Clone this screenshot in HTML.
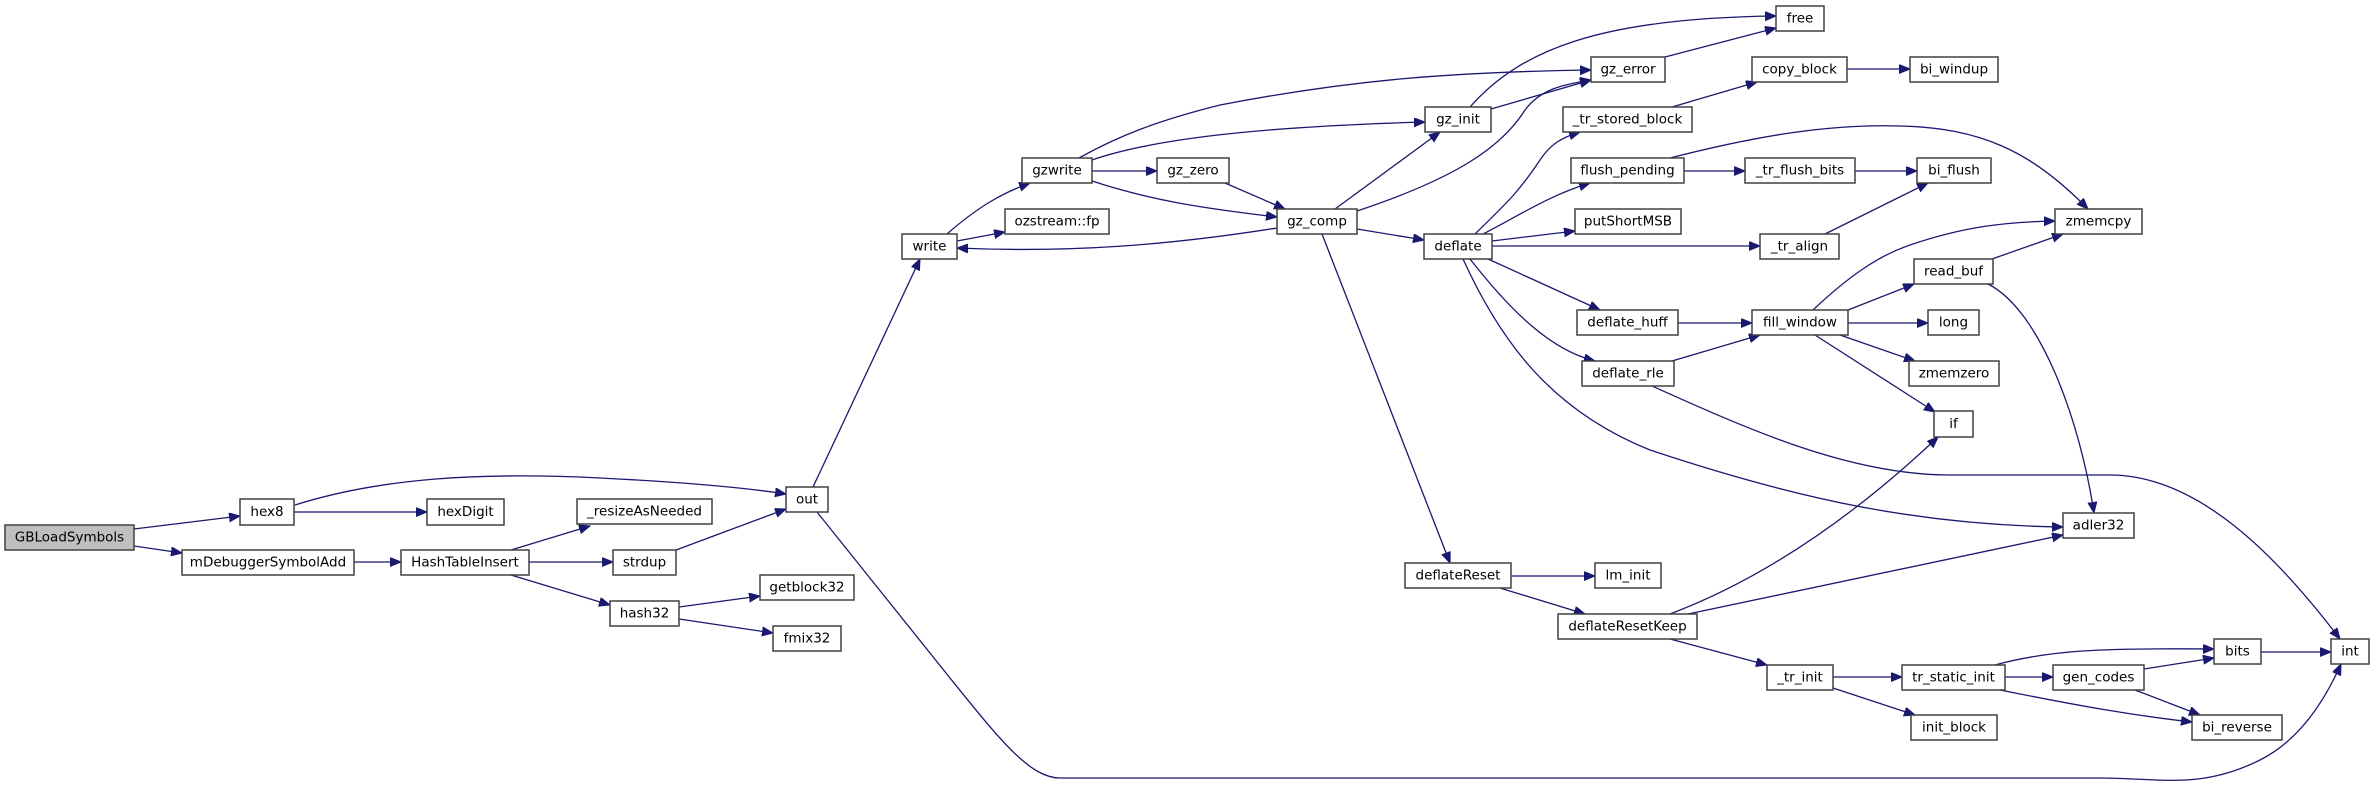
<!DOCTYPE html>
<html><head><meta charset="utf-8"><style>
html,body{margin:0;padding:0;background:#fff;}
svg{display:block;}
text{font-family:"DejaVu Sans","Liberation Sans",sans-serif;font-size:13.5px;fill:#000;text-anchor:middle;dominant-baseline:central;}
.b{fill:#fff;stroke:#404040;stroke-width:1.5;}
.e{fill:none;stroke:#191970;stroke-width:1.3;marker-end:url(#a);}
</style></head><body>
<svg width="2375" height="789" viewBox="0 0 2375 789" xmlns="http://www.w3.org/2000/svg">
<defs><marker id="a" markerUnits="userSpaceOnUse" markerWidth="12" markerHeight="10" refX="11" refY="4.5" orient="auto"><path d="M0,0 L11,4.5 L0,9 Z" fill="#191970" stroke="#191970"/></marker></defs>
<!-- edges -->
<path class="e" d="M134,529 L240,516"/>
<path class="e" d="M134,546 L182,553"/>
<path class="e" d="M295,505 C380,478 480,472 600,478 C680,482 740,487 786,494"/>
<path class="e" d="M294,512 L427,512"/>
<path class="e" d="M354,562 L401,562"/>
<path class="e" d="M511,550 L590,526"/>
<path class="e" d="M529,562 L613,562"/>
<path class="e" d="M511,575 L610,605"/>
<path class="e" d="M676,550 L786,509"/>
<path class="e" d="M679,607 L760,596"/>
<path class="e" d="M679,619 L773,633"/>
<path class="e" d="M813,487 L920,259"/>
<path class="e" d="M817,512 L950,678 C1000,740 1030,778 1060,778 L2100,778 C2160,778 2200,790 2260,760 C2300,740 2325,700 2341,664"/>
<path class="e" d="M947,234 C980,205 1005,192 1030,183"/>
<path class="e" d="M957,241 L1005,232"/>
<path class="e" d="M1277,228 C1170,245 1070,253 957,248"/>
<path class="e" d="M1079,158 C1120,135 1160,120 1220,105 C1350,80 1450,72 1591,70"/>
<path class="e" d="M1092,160 C1150,140 1250,127 1425,122"/>
<path class="e" d="M1092,171 L1157,171"/>
<path class="e" d="M1092,181 C1150,200 1200,208 1277,217"/>
<path class="e" d="M1225,183 L1285,209"/>
<path class="e" d="M1335,209 L1440,132"/>
<path class="e" d="M1357,211 C1450,180 1500,150 1525,110 C1540,90 1560,85 1591,80"/>
<path class="e" d="M1357,229 L1424,240"/>
<path class="e" d="M1322,234 L1450,563"/>
<path class="e" d="M1470,107 C1520,50 1600,18 1776,16"/>
<path class="e" d="M1491,109 L1591,80"/>
<path class="e" d="M1665,57 L1776,28"/>
<path class="e" d="M1475,234 C1510,200 1520,190 1540,160 C1550,145 1560,138 1580,132"/>
<path class="e" d="M1483,234 C1520,215 1550,195 1590,183"/>
<path class="e" d="M1492,241 L1575,231"/>
<path class="e" d="M1492,246 L1760,246"/>
<path class="e" d="M1488,259 L1600,310"/>
<path class="e" d="M1470,259 C1510,310 1550,350 1595,361"/>
<path class="e" d="M1463,259 C1500,340 1550,410 1650,450 C1800,500 1920,525 2063,527"/>
<path class="e" d="M1672,107 L1757,82"/>
<path class="e" d="M1847,69 L1910,69"/>
<path class="e" d="M1684,171 L1745,171"/>
<path class="e" d="M1855,171 L1917,171"/>
<path class="e" d="M1825,234 L1928,183"/>
<path class="e" d="M1670,158 C1760,135 1830,124 1900,126 C1980,128 2030,150 2088,209"/>
<path class="e" d="M1678,323 L1752,323"/>
<path class="e" d="M1672,361 L1760,335"/>
<path class="e" d="M1813,310 C1850,275 1880,255 1910,245 C1960,228 2000,222 2055,221"/>
<path class="e" d="M1992,259 L2063,234"/>
<path class="e" d="M1848,310 L1914,284"/>
<path class="e" d="M1848,323 L1928,323"/>
<path class="e" d="M1840,335 L1915,361"/>
<path class="e" d="M1815,335 L1935,412"/>
<path class="e" d="M1988,284 C2040,310 2080,420 2094,513"/>
<path class="e" d="M1652,386 C1750,430 1850,475 1950,475 L2110,475 C2200,475 2280,560 2340,639"/>
<path class="e" d="M1511,576 L1595,576"/>
<path class="e" d="M1500,588 L1585,614"/>
<path class="e" d="M1670,614 C1760,580 1850,520 1938,437"/>
<path class="e" d="M1688,614 L2063,535"/>
<path class="e" d="M1670,639 L1767,665"/>
<path class="e" d="M1833,677 L1902,677"/>
<path class="e" d="M1833,688 L1915,715"/>
<path class="e" d="M2005,677 L2053,677"/>
<path class="e" d="M1995,665 C2050,650 2100,648 2214,649"/>
<path class="e" d="M2000,690 C2080,706 2130,715 2192,722"/>
<path class="e" d="M2144,669 L2214,658"/>
<path class="e" d="M2135,690 L2200,715"/>
<path class="e" d="M2261,652 L2331,652"/>
<!-- nodes -->
<g>
<rect x="5" y="525" width="129" height="25" fill="#bfbfbf" stroke="#404040" stroke-width="1.5"/><text x="69.5" y="537.5">GBLoadSymbols</text>
<rect class="b" x="240" y="499" width="54" height="26"/><text x="267" y="512">hex8</text>
<rect class="b" x="427" y="499" width="77" height="26"/><text x="465.5" y="512">hexDigit</text>
<rect class="b" x="182" y="550" width="172" height="25"/><text x="268" y="562.5">mDebuggerSymbolAdd</text>
<rect class="b" x="401" y="550" width="128" height="25"/><text x="465" y="562.5">HashTableInsert</text>
<rect class="b" x="577" y="499" width="135" height="25"/><text x="644.5" y="511.5">_resizeAsNeeded</text>
<rect class="b" x="613" y="550" width="63" height="25"/><text x="644.5" y="562.5">strdup</text>
<rect class="b" x="610" y="601" width="69" height="25"/><text x="644.5" y="613.5">hash32</text>
<rect class="b" x="760" y="575" width="94" height="25"/><text x="807" y="587.5">getblock32</text>
<rect class="b" x="773" y="626" width="68" height="25"/><text x="807" y="638.5">fmix32</text>
<rect class="b" x="786" y="487" width="42" height="25"/><text x="807" y="499.5">out</text>
<rect class="b" x="902" y="234" width="55" height="25"/><text x="929.5" y="246.5">write</text>
<rect class="b" x="1022" y="158" width="70" height="25"/><text x="1057" y="170.5">gzwrite</text>
<rect class="b" x="1005" y="209" width="104" height="25"/><text x="1057" y="221.5">ozstream::fp</text>
<rect class="b" x="1157" y="158" width="72" height="25"/><text x="1193" y="170.5">gz_zero</text>
<rect class="b" x="1277" y="209" width="80" height="25"/><text x="1317" y="221.5">gz_comp</text>
<rect class="b" x="1425" y="107" width="66" height="25"/><text x="1458" y="119.5">gz_init</text>
<rect class="b" x="1424" y="234" width="68" height="25"/><text x="1458" y="246.5">deflate</text>
<rect class="b" x="1405" y="563" width="106" height="25"/><text x="1458" y="575.5">deflateReset</text>
<rect class="b" x="1591" y="57" width="74" height="25"/><text x="1628" y="69.5">gz_error</text>
<rect class="b" x="1776" y="6" width="48" height="25"/><text x="1800" y="18.5">free</text>
<rect class="b" x="1752" y="57" width="95" height="25"/><text x="1799.5" y="69.5">copy_block</text>
<rect class="b" x="1910" y="57" width="88" height="25"/><text x="1954" y="69.5">bi_windup</text>
<rect class="b" x="1563" y="107" width="129" height="25"/><text x="1627.5" y="119.5">_tr_stored_block</text>
<rect class="b" x="1571" y="158" width="113" height="25"/><text x="1627.5" y="170.5">flush_pending</text>
<rect class="b" x="1745" y="158" width="110" height="25"/><text x="1800" y="170.5">_tr_flush_bits</text>
<rect class="b" x="1917" y="158" width="74" height="25"/><text x="1954" y="170.5">bi_flush</text>
<rect class="b" x="1575" y="209" width="106" height="25"/><text x="1628" y="221.5">putShortMSB</text>
<rect class="b" x="1760" y="234" width="79" height="25"/><text x="1799.5" y="246.5">_tr_align</text>
<rect class="b" x="2055" y="209" width="87" height="25"/><text x="2098.5" y="221.5">zmemcpy</text>
<rect class="b" x="1914" y="259" width="79" height="25"/><text x="1953.5" y="271.5">read_buf</text>
<rect class="b" x="1577" y="310" width="101" height="25"/><text x="1627.5" y="322.5">deflate_huff</text>
<rect class="b" x="1752" y="310" width="96" height="25"/><text x="1800" y="322.5">fill_window</text>
<rect class="b" x="1928" y="310" width="51" height="25"/><text x="1953.5" y="322.5">long</text>
<rect class="b" x="1582" y="361" width="92" height="25"/><text x="1628" y="373.5">deflate_rle</text>
<rect class="b" x="1909" y="361" width="90" height="25"/><text x="1954" y="373.5">zmemzero</text>
<rect class="b" x="1934" y="411" width="39" height="26"/><text x="1953.5" y="424">if</text>
<rect class="b" x="2063" y="513" width="71" height="25"/><text x="2098.5" y="525.5">adler32</text>
<rect class="b" x="1595" y="563" width="66" height="25"/><text x="1628" y="575.5">lm_init</text>
<rect class="b" x="1558" y="614" width="139" height="25"/><text x="1627.5" y="626.5">deflateResetKeep</text>
<rect class="b" x="1767" y="665" width="66" height="25"/><text x="1800" y="677.5">_tr_init</text>
<rect class="b" x="1902" y="665" width="103" height="25"/><text x="1953.5" y="677.5">tr_static_init</text>
<rect class="b" x="1911" y="715" width="86" height="25"/><text x="1954" y="727.5">init_block</text>
<rect class="b" x="2053" y="665" width="91" height="25"/><text x="2098.5" y="677.5">gen_codes</text>
<rect class="b" x="2214" y="639" width="47" height="25"/><text x="2237.5" y="651.5">bits</text>
<rect class="b" x="2192" y="715" width="90" height="25"/><text x="2237" y="727.5">bi_reverse</text>
<rect class="b" x="2331" y="639" width="38" height="25"/><text x="2350" y="651.5">int</text>
</g>
</svg>
</body></html>
